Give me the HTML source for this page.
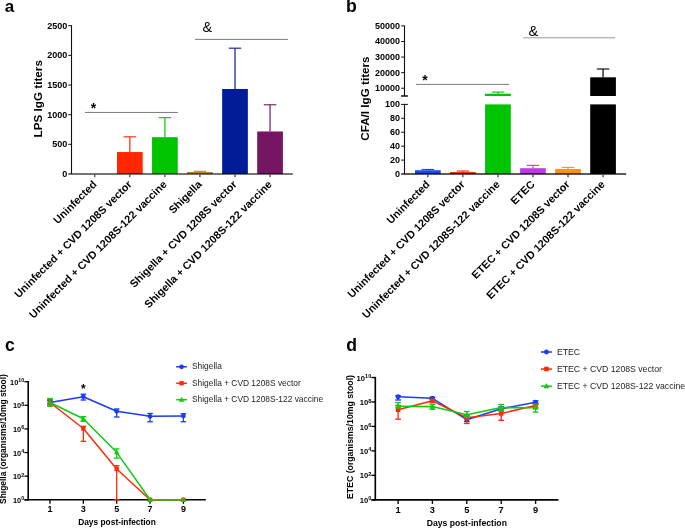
<!DOCTYPE html>
<html><head><meta charset="utf-8"><style>
html,body{margin:0;padding:0;background:#fff;overflow:hidden;}
svg{display:block;font-family:"Liberation Sans", sans-serif;will-change:transform;}
</style></head><body>
<svg width="685" height="528" viewBox="0 0 685 528">
<rect width="685" height="528" fill="#fff"/>
<text x="4.80" y="12.35" font-size="17" font-weight="bold" text-anchor="start" fill="#000" >a</text>
<text x="346.10" y="12.30" font-size="17.6" font-weight="bold" text-anchor="start" fill="#000" >b</text>
<text x="4.90" y="350.50" font-size="17.6" font-weight="bold" text-anchor="start" fill="#000" >c</text>
<text x="346.20" y="350.50" font-size="17.6" font-weight="bold" text-anchor="start" fill="#000" >d</text>
<line x1="129.85" y1="152.05" x2="129.85" y2="136.81" stroke="#ff2600" stroke-width="1.2"/>
<line x1="123.60" y1="136.81" x2="136.10" y2="136.81" stroke="#ff2600" stroke-width="1.1"/>
<rect x="117.00" y="152.05" width="25.70" height="21.95" fill="#ff2600"/>
<line x1="164.90" y1="137.16" x2="164.90" y2="117.65" stroke="#00c400" stroke-width="1.2"/>
<line x1="158.65" y1="117.65" x2="171.15" y2="117.65" stroke="#00c400" stroke-width="1.1"/>
<rect x="152.05" y="137.16" width="25.70" height="36.84" fill="#00c400"/>
<line x1="199.95" y1="171.98" x2="199.95" y2="171.27" stroke="#bb8622" stroke-width="1.2"/>
<line x1="193.70" y1="171.27" x2="206.20" y2="171.27" stroke="#bb8622" stroke-width="1.1"/>
<rect x="187.10" y="171.98" width="25.70" height="2.02" fill="#bb8622"/>
<line x1="235.00" y1="88.99" x2="235.00" y2="48.18" stroke="#001c96" stroke-width="1.2"/>
<line x1="228.75" y1="48.18" x2="241.25" y2="48.18" stroke="#001c96" stroke-width="1.1"/>
<rect x="222.15" y="88.99" width="25.70" height="85.01" fill="#001c96"/>
<line x1="270.05" y1="131.47" x2="270.05" y2="104.77" stroke="#761563" stroke-width="1.2"/>
<line x1="263.80" y1="104.77" x2="276.30" y2="104.77" stroke="#761563" stroke-width="1.1"/>
<rect x="257.20" y="131.47" width="25.70" height="42.53" fill="#761563"/>
<line x1="71.50" y1="25.20" x2="71.50" y2="174.00" stroke="#111" stroke-width="1.1"/>
<line x1="68.20" y1="174.00" x2="292.80" y2="174.00" stroke="rgba(0,0,0,0.72)" stroke-width="1.5"/>
<line x1="94.80" y1="174.70" x2="94.80" y2="177.20" stroke="#111" stroke-width="1"/>
<line x1="129.85" y1="174.70" x2="129.85" y2="177.20" stroke="#111" stroke-width="1"/>
<line x1="164.90" y1="174.70" x2="164.90" y2="177.20" stroke="#111" stroke-width="1"/>
<line x1="199.95" y1="174.70" x2="199.95" y2="177.20" stroke="#111" stroke-width="1"/>
<line x1="235.00" y1="174.70" x2="235.00" y2="177.20" stroke="#111" stroke-width="1"/>
<line x1="270.05" y1="174.70" x2="270.05" y2="177.20" stroke="#111" stroke-width="1"/>
<text x="67.20" y="176.85" font-size="9" font-weight="bold" text-anchor="end">0</text>
<line x1="68.30" y1="144.34" x2="71.50" y2="144.34" stroke="#111" stroke-width="1"/>
<text x="67.20" y="147.19" font-size="9" font-weight="bold" text-anchor="end">500</text>
<line x1="68.30" y1="114.68" x2="71.50" y2="114.68" stroke="#111" stroke-width="1"/>
<text x="67.20" y="117.53" font-size="9" font-weight="bold" text-anchor="end">1000</text>
<line x1="68.30" y1="85.02" x2="71.50" y2="85.02" stroke="#111" stroke-width="1"/>
<text x="67.20" y="87.87" font-size="9" font-weight="bold" text-anchor="end">1500</text>
<line x1="68.30" y1="55.36" x2="71.50" y2="55.36" stroke="#111" stroke-width="1"/>
<text x="67.20" y="58.21" font-size="9" font-weight="bold" text-anchor="end">2000</text>
<line x1="68.30" y1="25.70" x2="71.50" y2="25.70" stroke="#111" stroke-width="1"/>
<text x="67.20" y="28.55" font-size="9" font-weight="bold" text-anchor="end">2500</text>
<text transform="translate(41.7,98.75) rotate(-90)" font-size="11.7" font-weight="bold" text-anchor="middle">LPS IgG titers</text>
<line x1="85.00" y1="112.45" x2="177.90" y2="112.45" stroke="#7a7a7a" stroke-width="1"/>
<text x="93.60" y="112.80" font-size="14" font-weight="bold" text-anchor="middle" fill="#000" >*</text>
<line x1="195.00" y1="39.40" x2="287.90" y2="39.40" stroke="#7a7a7a" stroke-width="1"/>
<text x="202.50" y="31.60" font-size="14.5" font-weight="normal" text-anchor="start" fill="#000" >&amp;</text>
<text transform="translate(97.30,185.00) rotate(-45)" font-size="10.8" font-weight="bold" text-anchor="end">Uninfected</text>
<text transform="translate(132.35,185.00) rotate(-45)" font-size="10.8" font-weight="bold" text-anchor="end">Uninfected + CVD 1208S vector</text>
<text transform="translate(167.40,185.00) rotate(-45)" font-size="10.8" font-weight="bold" text-anchor="end">Uninfected + CVD 1208S-122 vaccine</text>
<text transform="translate(202.45,185.00) rotate(-45)" font-size="10.8" font-weight="bold" text-anchor="end">Shigella</text>
<text transform="translate(237.50,185.00) rotate(-45)" font-size="10.8" font-weight="bold" text-anchor="end">Shigella + CVD 1208S vector</text>
<text transform="translate(272.55,185.00) rotate(-45)" font-size="10.8" font-weight="bold" text-anchor="end">Shigella + CVD 1208S-122 vaccine</text>
<line x1="427.85" y1="170.24" x2="427.85" y2="169.48" stroke="#1a45f0" stroke-width="1.2"/>
<line x1="421.60" y1="169.48" x2="434.10" y2="169.48" stroke="#1a45f0" stroke-width="1.1"/>
<rect x="415.00" y="170.24" width="25.70" height="3.76" fill="#1a45f0"/>
<line x1="462.89" y1="171.98" x2="462.89" y2="171.01" stroke="#ff2a00" stroke-width="1.2"/>
<line x1="456.64" y1="171.01" x2="469.14" y2="171.01" stroke="#ff2a00" stroke-width="1.1"/>
<rect x="450.04" y="171.98" width="25.70" height="2.02" fill="#ff2a00"/>
<rect x="485.08" y="104.40" width="25.70" height="69.60" fill="#00c400"/>
<line x1="497.93" y1="93.70" x2="497.93" y2="92.09" stroke="#00c400" stroke-width="1.2"/>
<line x1="491.68" y1="92.09" x2="504.18" y2="92.09" stroke="#00c400" stroke-width="1.1"/>
<rect x="485.08" y="93.70" width="25.70" height="2.30" fill="#00c400"/>
<line x1="532.97" y1="168.22" x2="532.97" y2="165.37" stroke="#bd38e6" stroke-width="1.2"/>
<line x1="526.72" y1="165.37" x2="539.22" y2="165.37" stroke="#bd38e6" stroke-width="1.1"/>
<rect x="520.12" y="168.22" width="25.70" height="5.78" fill="#bd38e6"/>
<line x1="568.01" y1="168.99" x2="568.01" y2="167.39" stroke="#ff9300" stroke-width="1.2"/>
<line x1="561.76" y1="167.39" x2="574.26" y2="167.39" stroke="#ff9300" stroke-width="1.1"/>
<rect x="555.16" y="168.99" width="25.70" height="5.01" fill="#ff9300"/>
<rect x="590.20" y="104.40" width="25.70" height="69.60" fill="#000000"/>
<line x1="603.05" y1="77.30" x2="603.05" y2="69.00" stroke="#000000" stroke-width="1.2"/>
<line x1="596.80" y1="69.00" x2="609.30" y2="69.00" stroke="#000000" stroke-width="1.1"/>
<rect x="590.20" y="77.30" width="25.70" height="18.70" fill="#000000"/>
<line x1="404.50" y1="25.42" x2="404.50" y2="96.00" stroke="#111" stroke-width="1.1"/>
<line x1="404.50" y1="104.40" x2="404.50" y2="174.00" stroke="#111" stroke-width="1.1"/>
<line x1="401.10" y1="96.00" x2="407.90" y2="96.00" stroke="#111" stroke-width="1.5"/>
<line x1="401.10" y1="104.40" x2="407.90" y2="104.40" stroke="#111" stroke-width="1"/>
<line x1="401.20" y1="174.00" x2="626.20" y2="174.00" stroke="rgba(0,0,0,0.86)" stroke-width="1.5"/>
<line x1="427.85" y1="174.70" x2="427.85" y2="177.30" stroke="#111" stroke-width="1"/>
<line x1="462.89" y1="174.70" x2="462.89" y2="177.30" stroke="#111" stroke-width="1"/>
<line x1="497.93" y1="174.70" x2="497.93" y2="177.30" stroke="#111" stroke-width="1"/>
<line x1="532.97" y1="174.70" x2="532.97" y2="177.30" stroke="#111" stroke-width="1"/>
<line x1="568.01" y1="174.70" x2="568.01" y2="177.30" stroke="#111" stroke-width="1"/>
<line x1="603.05" y1="174.70" x2="603.05" y2="177.30" stroke="#111" stroke-width="1"/>
<line x1="401.20" y1="88.22" x2="404.50" y2="88.22" stroke="#111" stroke-width="1"/>
<text x="400.10" y="91.07" font-size="9" font-weight="bold" text-anchor="end">10000</text>
<line x1="401.20" y1="72.65" x2="404.50" y2="72.65" stroke="#111" stroke-width="1"/>
<text x="400.10" y="75.50" font-size="9" font-weight="bold" text-anchor="end">20000</text>
<line x1="401.20" y1="57.07" x2="404.50" y2="57.07" stroke="#111" stroke-width="1"/>
<text x="400.10" y="59.92" font-size="9" font-weight="bold" text-anchor="end">30000</text>
<line x1="401.20" y1="41.50" x2="404.50" y2="41.50" stroke="#111" stroke-width="1"/>
<text x="400.10" y="44.35" font-size="9" font-weight="bold" text-anchor="end">40000</text>
<line x1="401.20" y1="25.92" x2="404.50" y2="25.92" stroke="#111" stroke-width="1"/>
<text x="400.10" y="28.77" font-size="9" font-weight="bold" text-anchor="end">50000</text>
<text x="400.10" y="176.85" font-size="9" font-weight="bold" text-anchor="end">0</text>
<line x1="401.20" y1="160.08" x2="404.50" y2="160.08" stroke="#111" stroke-width="1"/>
<text x="400.10" y="162.93" font-size="9" font-weight="bold" text-anchor="end">20</text>
<line x1="401.20" y1="146.16" x2="404.50" y2="146.16" stroke="#111" stroke-width="1"/>
<text x="400.10" y="149.01" font-size="9" font-weight="bold" text-anchor="end">40</text>
<line x1="401.20" y1="132.24" x2="404.50" y2="132.24" stroke="#111" stroke-width="1"/>
<text x="400.10" y="135.09" font-size="9" font-weight="bold" text-anchor="end">60</text>
<line x1="401.20" y1="118.32" x2="404.50" y2="118.32" stroke="#111" stroke-width="1"/>
<text x="400.10" y="121.17" font-size="9" font-weight="bold" text-anchor="end">80</text>
<text x="400.10" y="107.25" font-size="9" font-weight="bold" text-anchor="end">100</text>
<text transform="translate(368.8,98.6) rotate(-90)" font-size="11.7" font-weight="bold" text-anchor="middle">CFA/I IgG titers</text>
<line x1="416.00" y1="84.40" x2="509.00" y2="84.40" stroke="#7a7a7a" stroke-width="1"/>
<text x="424.90" y="84.80" font-size="14" font-weight="bold" text-anchor="middle" fill="#000" >*</text>
<line x1="523.20" y1="37.80" x2="615.30" y2="37.80" stroke="#999" stroke-width="1"/>
<text x="528.50" y="36.20" font-size="14.5" font-weight="normal" text-anchor="start" fill="#000" >&amp;</text>
<text transform="translate(430.35,185.00) rotate(-45)" font-size="10.8" font-weight="bold" text-anchor="end">Uninfected</text>
<text transform="translate(465.39,185.00) rotate(-45)" font-size="10.8" font-weight="bold" text-anchor="end">Uninfected + CVD 1208S vector</text>
<text transform="translate(500.43,185.00) rotate(-45)" font-size="10.8" font-weight="bold" text-anchor="end">Uninfected + CVD 1208S-122 vaccine</text>
<text transform="translate(535.47,185.00) rotate(-45)" font-size="10.8" font-weight="bold" text-anchor="end">ETEC</text>
<text transform="translate(570.51,185.00) rotate(-45)" font-size="10.8" font-weight="bold" text-anchor="end">ETEC + CVD 1208S vector</text>
<text transform="translate(605.55,185.00) rotate(-45)" font-size="10.8" font-weight="bold" text-anchor="end">ETEC + CVD 1208S-122 vaccine</text>
<line x1="28.20" y1="381.10" x2="28.20" y2="500.60" stroke="#000" stroke-width="1.6"/>
<line x1="24.40" y1="499.80" x2="205.80" y2="499.80" stroke="#000" stroke-width="1.6"/>
<line x1="24.40" y1="499.80" x2="28.20" y2="499.80" stroke="#000" stroke-width="1.3"/>
<text x="24.20" y="502.80" font-size="7.40" font-weight="bold" text-anchor="end">10<tspan dy="-2.45" font-size="5.30">0</tspan></text>
<line x1="24.40" y1="476.18" x2="28.20" y2="476.18" stroke="#000" stroke-width="1.3"/>
<text x="24.20" y="479.18" font-size="7.40" font-weight="bold" text-anchor="end">10<tspan dy="-2.45" font-size="5.30">2</tspan></text>
<line x1="24.40" y1="452.56" x2="28.20" y2="452.56" stroke="#000" stroke-width="1.3"/>
<text x="24.20" y="455.56" font-size="7.40" font-weight="bold" text-anchor="end">10<tspan dy="-2.45" font-size="5.30">4</tspan></text>
<line x1="24.40" y1="428.94" x2="28.20" y2="428.94" stroke="#000" stroke-width="1.3"/>
<text x="24.20" y="431.94" font-size="7.40" font-weight="bold" text-anchor="end">10<tspan dy="-2.45" font-size="5.30">6</tspan></text>
<line x1="24.40" y1="405.32" x2="28.20" y2="405.32" stroke="#000" stroke-width="1.3"/>
<text x="24.20" y="408.32" font-size="7.40" font-weight="bold" text-anchor="end">10<tspan dy="-2.45" font-size="5.30">8</tspan></text>
<line x1="24.40" y1="381.70" x2="28.20" y2="381.70" stroke="#000" stroke-width="1.3"/>
<text x="24.20" y="384.70" font-size="7.40" font-weight="bold" text-anchor="end">10<tspan dy="-2.45" font-size="5.30">10</tspan></text>
<line x1="49.95" y1="499.80" x2="49.95" y2="503.80" stroke="#000" stroke-width="1.3"/>
<text x="49.95" y="512.20" font-size="9.0" font-weight="bold" text-anchor="middle" fill="#000" >1</text>
<line x1="83.35" y1="499.80" x2="83.35" y2="503.80" stroke="#000" stroke-width="1.3"/>
<text x="83.35" y="512.20" font-size="9.0" font-weight="bold" text-anchor="middle" fill="#000" >3</text>
<line x1="116.70" y1="499.80" x2="116.70" y2="503.80" stroke="#000" stroke-width="1.3"/>
<text x="116.70" y="512.20" font-size="9.0" font-weight="bold" text-anchor="middle" fill="#000" >5</text>
<line x1="150.05" y1="499.80" x2="150.05" y2="503.80" stroke="#000" stroke-width="1.3"/>
<text x="150.05" y="512.20" font-size="9.0" font-weight="bold" text-anchor="middle" fill="#000" >7</text>
<line x1="183.40" y1="499.80" x2="183.40" y2="503.80" stroke="#000" stroke-width="1.3"/>
<text x="183.40" y="512.20" font-size="9.0" font-weight="bold" text-anchor="middle" fill="#000" >9</text>
<text x="117.00" y="525.10" font-size="8.4" font-weight="bold" text-anchor="middle" fill="#000" >Days post-infection</text>
<text transform="translate(6.30,439.05) rotate(-90)" font-size="8.45" font-weight="bold" text-anchor="middle">Shigella (organisms/10mg stool)</text>
<polyline points="49.95,402.49 83.35,396.70 116.70,411.23 150.05,416.30 183.40,415.95" fill="none" stroke="#1a3cf5" stroke-width="1.50" stroke-linejoin="round"/>
<line x1="49.95" y1="404.14" x2="49.95" y2="400.60" stroke="#1a3cf5" stroke-width="1.3"/>
<line x1="47.15" y1="404.14" x2="52.75" y2="404.14" stroke="#1a3cf5" stroke-width="1.3"/>
<line x1="47.15" y1="400.60" x2="52.75" y2="400.60" stroke="#1a3cf5" stroke-width="1.3"/>
<circle cx="49.95" cy="402.49" r="2.35" fill="#1a3cf5"/>
<line x1="83.35" y1="400.01" x2="83.35" y2="394.22" stroke="#1a3cf5" stroke-width="1.3"/>
<line x1="80.55" y1="400.01" x2="86.15" y2="400.01" stroke="#1a3cf5" stroke-width="1.3"/>
<line x1="80.55" y1="394.22" x2="86.15" y2="394.22" stroke="#1a3cf5" stroke-width="1.3"/>
<circle cx="83.35" cy="396.70" r="2.35" fill="#1a3cf5"/>
<line x1="116.70" y1="417.01" x2="116.70" y2="408.98" stroke="#1a3cf5" stroke-width="1.3"/>
<line x1="113.90" y1="417.01" x2="119.50" y2="417.01" stroke="#1a3cf5" stroke-width="1.3"/>
<line x1="113.90" y1="408.98" x2="119.50" y2="408.98" stroke="#1a3cf5" stroke-width="1.3"/>
<circle cx="116.70" cy="411.23" r="2.35" fill="#1a3cf5"/>
<line x1="150.05" y1="421.74" x2="150.05" y2="413.47" stroke="#1a3cf5" stroke-width="1.3"/>
<line x1="147.25" y1="421.74" x2="152.85" y2="421.74" stroke="#1a3cf5" stroke-width="1.3"/>
<line x1="147.25" y1="413.47" x2="152.85" y2="413.47" stroke="#1a3cf5" stroke-width="1.3"/>
<circle cx="150.05" cy="416.30" r="2.35" fill="#1a3cf5"/>
<line x1="183.40" y1="421.74" x2="183.40" y2="413.71" stroke="#1a3cf5" stroke-width="1.3"/>
<line x1="180.60" y1="421.74" x2="186.20" y2="421.74" stroke="#1a3cf5" stroke-width="1.3"/>
<line x1="180.60" y1="413.71" x2="186.20" y2="413.71" stroke="#1a3cf5" stroke-width="1.3"/>
<circle cx="183.40" cy="415.95" r="2.35" fill="#1a3cf5"/>
<polyline points="49.95,402.49 83.35,428.47 116.70,468.98 150.05,499.80 183.40,499.80" fill="none" stroke="#ff2a0a" stroke-width="1.50" stroke-linejoin="round"/>
<line x1="49.95" y1="405.91" x2="49.95" y2="399.42" stroke="#ff2a0a" stroke-width="1.3"/>
<line x1="47.15" y1="405.91" x2="52.75" y2="405.91" stroke="#ff2a0a" stroke-width="1.3"/>
<line x1="47.15" y1="399.42" x2="52.75" y2="399.42" stroke="#ff2a0a" stroke-width="1.3"/>
<rect x="47.75" y="400.29" width="4.40" height="4.40" fill="#ff2a0a"/>
<line x1="83.35" y1="441.34" x2="83.35" y2="426.34" stroke="#ff2a0a" stroke-width="1.3"/>
<line x1="80.55" y1="441.34" x2="86.15" y2="441.34" stroke="#ff2a0a" stroke-width="1.3"/>
<line x1="80.55" y1="426.34" x2="86.15" y2="426.34" stroke="#ff2a0a" stroke-width="1.3"/>
<rect x="81.15" y="426.27" width="4.40" height="4.40" fill="#ff2a0a"/>
<line x1="116.70" y1="499.80" x2="116.70" y2="465.67" stroke="#ff2a0a" stroke-width="1.3"/>
<line x1="113.90" y1="499.80" x2="119.50" y2="499.80" stroke="#ff2a0a" stroke-width="1.3"/>
<line x1="113.90" y1="465.67" x2="119.50" y2="465.67" stroke="#ff2a0a" stroke-width="1.3"/>
<rect x="114.50" y="466.78" width="4.40" height="4.40" fill="#ff2a0a"/>
<rect x="147.85" y="497.60" width="4.40" height="4.40" fill="#ff2a0a"/>
<rect x="181.20" y="497.60" width="4.40" height="4.40" fill="#ff2a0a"/>
<polyline points="49.95,402.49 83.35,418.78 116.70,452.32 150.05,499.80 183.40,499.80" fill="none" stroke="#14c814" stroke-width="1.50" stroke-linejoin="round"/>
<line x1="49.95" y1="406.26" x2="49.95" y2="398.47" stroke="#14c814" stroke-width="1.3"/>
<line x1="47.15" y1="406.26" x2="52.75" y2="406.26" stroke="#14c814" stroke-width="1.3"/>
<line x1="47.15" y1="398.47" x2="52.75" y2="398.47" stroke="#14c814" stroke-width="1.3"/>
<path d="M49.95,399.59 L52.75,404.49 L47.15,404.49 Z" fill="#14c814"/>
<line x1="83.35" y1="421.38" x2="83.35" y2="416.66" stroke="#14c814" stroke-width="1.3"/>
<line x1="80.55" y1="421.38" x2="86.15" y2="421.38" stroke="#14c814" stroke-width="1.3"/>
<line x1="80.55" y1="416.66" x2="86.15" y2="416.66" stroke="#14c814" stroke-width="1.3"/>
<path d="M83.35,415.88 L86.15,420.78 L80.55,420.78 Z" fill="#14c814"/>
<line x1="116.70" y1="458.11" x2="116.70" y2="448.90" stroke="#14c814" stroke-width="1.3"/>
<line x1="113.90" y1="458.11" x2="119.50" y2="458.11" stroke="#14c814" stroke-width="1.3"/>
<line x1="113.90" y1="448.90" x2="119.50" y2="448.90" stroke="#14c814" stroke-width="1.3"/>
<path d="M116.70,449.42 L119.50,454.32 L113.90,454.32 Z" fill="#14c814"/>
<path d="M150.05,496.90 L152.85,501.80 L147.25,501.80 Z" fill="#14c814"/>
<path d="M183.40,496.90 L186.20,501.80 L180.60,501.80 Z" fill="#14c814"/>
<line x1="176.20" y1="366.80" x2="186.90" y2="366.80" stroke="#1a3cf5" stroke-width="1.5"/>
<circle cx="181.55" cy="366.80" r="2.35" fill="#1a3cf5"/>
<text x="192.00" y="369.30" font-size="8.4" font-weight="normal" text-anchor="start" fill="#1e1e1e" >Shigella</text>
<line x1="176.20" y1="383.25" x2="186.90" y2="383.25" stroke="#ff2a0a" stroke-width="1.5"/>
<rect x="179.35" y="381.05" width="4.40" height="4.40" fill="#ff2a0a"/>
<text x="192.00" y="385.75" font-size="8.4" font-weight="normal" text-anchor="start" fill="#1e1e1e" >Shigella + CVD 1208S vector</text>
<line x1="176.20" y1="399.70" x2="186.90" y2="399.70" stroke="#14c814" stroke-width="1.5"/>
<path d="M181.55,396.80 L184.35,401.70 L178.75,401.70 Z" fill="#14c814"/>
<text x="192.00" y="402.20" font-size="8.4" font-weight="normal" text-anchor="start" fill="#1e1e1e" >Shigella + CVD 1208S-122 vaccine</text>
<text x="83.40" y="392.60" font-size="12.0" font-weight="bold" text-anchor="middle" fill="#000" >*</text>
<line x1="375.30" y1="376.90" x2="375.30" y2="500.60" stroke="#000" stroke-width="1.6512000000000002"/>
<line x1="371.38" y1="499.80" x2="558.40" y2="499.80" stroke="#000" stroke-width="1.6512000000000002"/>
<line x1="371.38" y1="499.80" x2="375.30" y2="499.80" stroke="#000" stroke-width="1.3416000000000001"/>
<text x="371.20" y="502.90" font-size="7.64" font-weight="bold" text-anchor="end">10<tspan dy="-2.53" font-size="5.47">0</tspan></text>
<line x1="371.38" y1="475.34" x2="375.30" y2="475.34" stroke="#000" stroke-width="1.3416000000000001"/>
<text x="371.20" y="478.44" font-size="7.64" font-weight="bold" text-anchor="end">10<tspan dy="-2.53" font-size="5.47">2</tspan></text>
<line x1="371.38" y1="450.88" x2="375.30" y2="450.88" stroke="#000" stroke-width="1.3416000000000001"/>
<text x="371.20" y="453.98" font-size="7.64" font-weight="bold" text-anchor="end">10<tspan dy="-2.53" font-size="5.47">4</tspan></text>
<line x1="371.38" y1="426.42" x2="375.30" y2="426.42" stroke="#000" stroke-width="1.3416000000000001"/>
<text x="371.20" y="429.52" font-size="7.64" font-weight="bold" text-anchor="end">10<tspan dy="-2.53" font-size="5.47">6</tspan></text>
<line x1="371.38" y1="401.96" x2="375.30" y2="401.96" stroke="#000" stroke-width="1.3416000000000001"/>
<text x="371.20" y="405.06" font-size="7.64" font-weight="bold" text-anchor="end">10<tspan dy="-2.53" font-size="5.47">8</tspan></text>
<line x1="371.38" y1="377.50" x2="375.30" y2="377.50" stroke="#000" stroke-width="1.3416000000000001"/>
<text x="371.20" y="380.60" font-size="7.64" font-weight="bold" text-anchor="end">10<tspan dy="-2.53" font-size="5.47">10</tspan></text>
<line x1="398.10" y1="499.80" x2="398.10" y2="503.93" stroke="#000" stroke-width="1.3416000000000001"/>
<text x="398.10" y="513.00" font-size="9.288" font-weight="bold" text-anchor="middle" fill="#000" >1</text>
<line x1="432.40" y1="499.80" x2="432.40" y2="503.93" stroke="#000" stroke-width="1.3416000000000001"/>
<text x="432.40" y="513.00" font-size="9.288" font-weight="bold" text-anchor="middle" fill="#000" >3</text>
<line x1="466.80" y1="499.80" x2="466.80" y2="503.93" stroke="#000" stroke-width="1.3416000000000001"/>
<text x="466.80" y="513.00" font-size="9.288" font-weight="bold" text-anchor="middle" fill="#000" >5</text>
<line x1="501.20" y1="499.80" x2="501.20" y2="503.93" stroke="#000" stroke-width="1.3416000000000001"/>
<text x="501.20" y="513.00" font-size="9.288" font-weight="bold" text-anchor="middle" fill="#000" >7</text>
<line x1="535.60" y1="499.80" x2="535.60" y2="503.93" stroke="#000" stroke-width="1.3416000000000001"/>
<text x="535.60" y="513.00" font-size="9.288" font-weight="bold" text-anchor="middle" fill="#000" >9</text>
<text x="466.80" y="525.60" font-size="8.668800000000001" font-weight="bold" text-anchor="middle" fill="#000" >Days post-infection</text>
<text transform="translate(353.30,437.00) rotate(-90)" font-size="8.72" font-weight="bold" text-anchor="middle">ETEC (organisms/10mg stool)</text>
<polyline points="398.10,396.70 432.40,398.29 466.80,419.69 501.20,408.81 535.60,402.20" fill="none" stroke="#1a3cf5" stroke-width="1.55" stroke-linejoin="round"/>
<line x1="398.10" y1="400.00" x2="398.10" y2="395.85" stroke="#1a3cf5" stroke-width="1.3416000000000001"/>
<line x1="395.21" y1="400.00" x2="400.99" y2="400.00" stroke="#1a3cf5" stroke-width="1.3416000000000001"/>
<line x1="395.21" y1="395.85" x2="400.99" y2="395.85" stroke="#1a3cf5" stroke-width="1.3416000000000001"/>
<circle cx="398.10" cy="396.70" r="2.43" fill="#1a3cf5"/>
<line x1="432.40" y1="399.51" x2="432.40" y2="397.31" stroke="#1a3cf5" stroke-width="1.3416000000000001"/>
<line x1="429.51" y1="399.51" x2="435.29" y2="399.51" stroke="#1a3cf5" stroke-width="1.3416000000000001"/>
<line x1="429.51" y1="397.31" x2="435.29" y2="397.31" stroke="#1a3cf5" stroke-width="1.3416000000000001"/>
<circle cx="432.40" cy="398.29" r="2.43" fill="#1a3cf5"/>
<line x1="466.80" y1="421.53" x2="466.80" y2="417.25" stroke="#1a3cf5" stroke-width="1.3416000000000001"/>
<line x1="463.91" y1="421.53" x2="469.69" y2="421.53" stroke="#1a3cf5" stroke-width="1.3416000000000001"/>
<line x1="463.91" y1="417.25" x2="469.69" y2="417.25" stroke="#1a3cf5" stroke-width="1.3416000000000001"/>
<circle cx="466.80" cy="419.69" r="2.43" fill="#1a3cf5"/>
<line x1="501.20" y1="410.52" x2="501.20" y2="406.85" stroke="#1a3cf5" stroke-width="1.3416000000000001"/>
<line x1="498.31" y1="410.52" x2="504.09" y2="410.52" stroke="#1a3cf5" stroke-width="1.3416000000000001"/>
<line x1="498.31" y1="406.85" x2="504.09" y2="406.85" stroke="#1a3cf5" stroke-width="1.3416000000000001"/>
<circle cx="501.20" cy="408.81" r="2.43" fill="#1a3cf5"/>
<line x1="535.60" y1="403.79" x2="535.60" y2="400.86" stroke="#1a3cf5" stroke-width="1.3416000000000001"/>
<line x1="532.71" y1="403.79" x2="538.49" y2="403.79" stroke="#1a3cf5" stroke-width="1.3416000000000001"/>
<line x1="532.71" y1="400.86" x2="538.49" y2="400.86" stroke="#1a3cf5" stroke-width="1.3416000000000001"/>
<circle cx="535.60" cy="402.20" r="2.43" fill="#1a3cf5"/>
<polyline points="398.10,409.79 432.40,400.86 466.80,417.74 501.20,413.46 535.60,405.51" fill="none" stroke="#ff2a0a" stroke-width="1.55" stroke-linejoin="round"/>
<line x1="398.10" y1="419.20" x2="398.10" y2="405.38" stroke="#ff2a0a" stroke-width="1.3416000000000001"/>
<line x1="395.21" y1="419.20" x2="400.99" y2="419.20" stroke="#ff2a0a" stroke-width="1.3416000000000001"/>
<line x1="395.21" y1="405.38" x2="400.99" y2="405.38" stroke="#ff2a0a" stroke-width="1.3416000000000001"/>
<rect x="395.83" y="407.52" width="4.54" height="4.54" fill="#ff2a0a"/>
<line x1="432.40" y1="402.57" x2="432.40" y2="399.51" stroke="#ff2a0a" stroke-width="1.3416000000000001"/>
<line x1="429.51" y1="402.57" x2="435.29" y2="402.57" stroke="#ff2a0a" stroke-width="1.3416000000000001"/>
<line x1="429.51" y1="399.51" x2="435.29" y2="399.51" stroke="#ff2a0a" stroke-width="1.3416000000000001"/>
<rect x="430.13" y="398.59" width="4.54" height="4.54" fill="#ff2a0a"/>
<line x1="466.80" y1="423.48" x2="466.80" y2="415.41" stroke="#ff2a0a" stroke-width="1.3416000000000001"/>
<line x1="463.91" y1="423.48" x2="469.69" y2="423.48" stroke="#ff2a0a" stroke-width="1.3416000000000001"/>
<line x1="463.91" y1="415.41" x2="469.69" y2="415.41" stroke="#ff2a0a" stroke-width="1.3416000000000001"/>
<rect x="464.53" y="415.47" width="4.54" height="4.54" fill="#ff2a0a"/>
<line x1="501.20" y1="420.31" x2="501.20" y2="410.52" stroke="#ff2a0a" stroke-width="1.3416000000000001"/>
<line x1="498.31" y1="420.31" x2="504.09" y2="420.31" stroke="#ff2a0a" stroke-width="1.3416000000000001"/>
<line x1="498.31" y1="410.52" x2="504.09" y2="410.52" stroke="#ff2a0a" stroke-width="1.3416000000000001"/>
<rect x="498.93" y="411.19" width="4.54" height="4.54" fill="#ff2a0a"/>
<line x1="535.60" y1="408.07" x2="535.60" y2="403.79" stroke="#ff2a0a" stroke-width="1.3416000000000001"/>
<line x1="532.71" y1="408.07" x2="538.49" y2="408.07" stroke="#ff2a0a" stroke-width="1.3416000000000001"/>
<line x1="532.71" y1="403.79" x2="538.49" y2="403.79" stroke="#ff2a0a" stroke-width="1.3416000000000001"/>
<rect x="533.33" y="403.24" width="4.54" height="4.54" fill="#ff2a0a"/>
<polyline points="398.10,406.24 432.40,406.61 466.80,414.80 501.20,407.59 535.60,407.71" fill="none" stroke="#14c814" stroke-width="1.55" stroke-linejoin="round"/>
<line x1="398.10" y1="407.95" x2="398.10" y2="402.57" stroke="#14c814" stroke-width="1.3416000000000001"/>
<line x1="395.21" y1="407.95" x2="400.99" y2="407.95" stroke="#14c814" stroke-width="1.3416000000000001"/>
<line x1="395.21" y1="402.57" x2="400.99" y2="402.57" stroke="#14c814" stroke-width="1.3416000000000001"/>
<path d="M398.10,403.25 L400.99,408.30 L395.21,408.30 Z" fill="#14c814"/>
<line x1="432.40" y1="409.30" x2="432.40" y2="404.41" stroke="#14c814" stroke-width="1.3416000000000001"/>
<line x1="429.51" y1="409.30" x2="435.29" y2="409.30" stroke="#14c814" stroke-width="1.3416000000000001"/>
<line x1="429.51" y1="404.41" x2="435.29" y2="404.41" stroke="#14c814" stroke-width="1.3416000000000001"/>
<path d="M432.40,403.61 L435.29,408.67 L429.51,408.67 Z" fill="#14c814"/>
<line x1="466.80" y1="417.25" x2="466.80" y2="411.50" stroke="#14c814" stroke-width="1.3416000000000001"/>
<line x1="463.91" y1="417.25" x2="469.69" y2="417.25" stroke="#14c814" stroke-width="1.3416000000000001"/>
<line x1="463.91" y1="411.50" x2="469.69" y2="411.50" stroke="#14c814" stroke-width="1.3416000000000001"/>
<path d="M466.80,411.81 L469.69,416.87 L463.91,416.87 Z" fill="#14c814"/>
<line x1="501.20" y1="410.89" x2="501.20" y2="404.53" stroke="#14c814" stroke-width="1.3416000000000001"/>
<line x1="498.31" y1="410.89" x2="504.09" y2="410.89" stroke="#14c814" stroke-width="1.3416000000000001"/>
<line x1="498.31" y1="404.53" x2="504.09" y2="404.53" stroke="#14c814" stroke-width="1.3416000000000001"/>
<path d="M501.20,404.59 L504.09,409.65 L498.31,409.65 Z" fill="#14c814"/>
<line x1="535.60" y1="412.11" x2="535.60" y2="405.02" stroke="#14c814" stroke-width="1.3416000000000001"/>
<line x1="532.71" y1="412.11" x2="538.49" y2="412.11" stroke="#14c814" stroke-width="1.3416000000000001"/>
<line x1="532.71" y1="405.02" x2="538.49" y2="405.02" stroke="#14c814" stroke-width="1.3416000000000001"/>
<path d="M535.60,404.72 L538.49,409.77 L532.71,409.77 Z" fill="#14c814"/>
<line x1="541.00" y1="352.00" x2="551.90" y2="352.00" stroke="#1a3cf5" stroke-width="1.548"/>
<circle cx="546.45" cy="352.00" r="2.43" fill="#1a3cf5"/>
<text x="556.90" y="355.00" font-size="8.7" font-weight="normal" text-anchor="start" fill="#1e1e1e" >ETEC</text>
<line x1="541.00" y1="369.05" x2="551.90" y2="369.05" stroke="#ff2a0a" stroke-width="1.548"/>
<rect x="544.18" y="366.78" width="4.54" height="4.54" fill="#ff2a0a"/>
<text x="556.90" y="372.05" font-size="8.7" font-weight="normal" text-anchor="start" fill="#1e1e1e" >ETEC + CVD 1208S vector</text>
<line x1="541.00" y1="386.10" x2="551.90" y2="386.10" stroke="#14c814" stroke-width="1.548"/>
<path d="M546.45,383.11 L549.34,388.16 L543.56,388.16 Z" fill="#14c814"/>
<text x="556.90" y="389.10" font-size="8.7" font-weight="normal" text-anchor="start" fill="#1e1e1e" >ETEC + CVD 1208S-122 vaccine</text>
</svg></body></html>
